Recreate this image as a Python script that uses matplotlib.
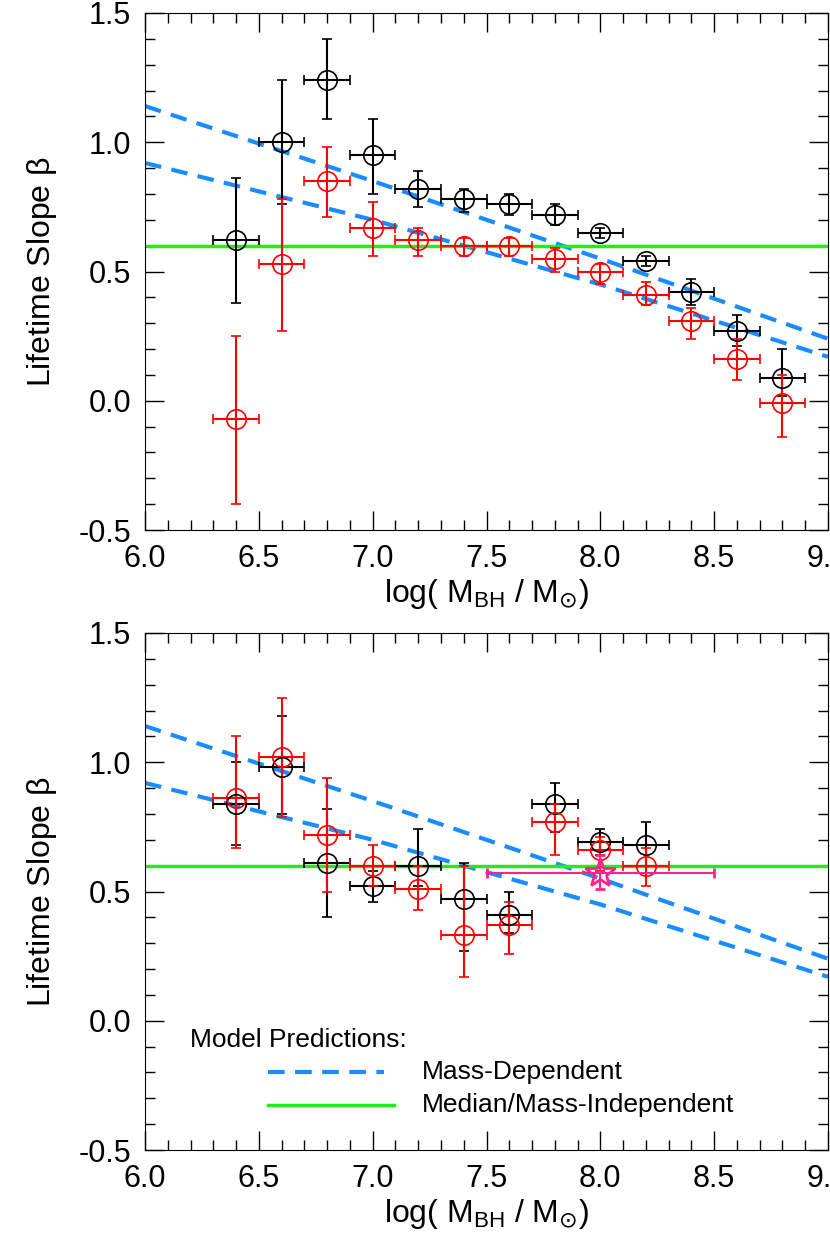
import numpy as np
import matplotlib.pyplot as plt
from matplotlib.ticker import MultipleLocator, FormatStrFormatter

plt.rcParams['font.family'] = ['Liberation Sans', 'DejaVu Sans']

mass = [6.4, 6.6, 6.8, 7.0, 7.2, 7.4, 7.6, 7.8, 8.0, 8.2, 8.4, 8.6, 8.8]

# top panel
top_blk = [0.62, 1.00, 1.24, 0.95, 0.82, 0.78, 0.76, 0.72, 0.65, 0.54, 0.42, 0.27, 0.09]
top_blk_hi = [0.86, 1.24, 1.40, 1.09, 0.89, 0.82, 0.80, 0.76, 0.67, 0.56, 0.47, 0.33, 0.20]
top_blk_lo = [0.38, 0.76, 1.09, 0.80, 0.75, 0.73, 0.72, 0.68, 0.63, 0.52, 0.37, 0.21, 0.02]
top_red = [-0.07, 0.53, 0.85, 0.67, 0.62, 0.60, 0.60, 0.55, 0.50, 0.41, 0.31, 0.16, -0.01]
top_red_hi = [0.25, 0.78, 0.98, 0.77, 0.67, 0.63, 0.63, 0.59, 0.53, 0.46, 0.36, 0.24, 0.10]
top_red_lo = [-0.40, 0.27, 0.71, 0.56, 0.56, 0.56, 0.56, 0.50, 0.45, 0.37, 0.24, 0.08, -0.14]

# bottom panel
bot_mass = mass[:10]
bot_blk = [0.84, 0.98, 0.61, 0.52, 0.60, 0.47, 0.41, 0.84, 0.69, 0.68]
bot_blk_hi = [1.00, 1.18, 0.82, 0.58, 0.74, 0.61, 0.50, 0.92, 0.74, 0.77]
bot_blk_lo = [0.68, 0.80, 0.40, 0.46, 0.52, 0.27, 0.34, 0.73, 0.64, 0.60]
bot_red = [0.86, 1.02, 0.72, 0.60, 0.51, 0.33, 0.37, 0.77, 0.66, 0.60]
bot_red_hi = [1.10, 1.25, 0.94, 0.68, 0.60, 0.60, 0.46, 0.84, 0.71, 0.67]
bot_red_lo = [0.67, 0.79, 0.50, 0.52, 0.43, 0.17, 0.26, 0.64, 0.58, 0.52]
star_x, star_y = 8.0, 0.57
star_xlo, star_xhi = 7.5, 8.5
star_ylo, star_yhi = 0.51, 0.64

# model lines
model_x = [6.0, 7.0, 8.0, 9.0]
model_hi = [1.14, 0.85, 0.55, 0.24]
model_lo = [0.92, 0.70, 0.45, 0.17]
median_beta = 0.60

fig = plt.figure(figsize=(8.3, 12.37), dpi=100)
ax1 = fig.add_axes([0.1747, 0.5715, 0.8229, 0.418])
ax2 = fig.add_axes([0.1747, 0.0703, 0.8229, 0.418])

blue = '#1a8cff'
green = '#22ee11'


def panel(ax, x, yb, hb, lb, yr, hr, lr):
    x = np.array(x)
    for y, h, l, c in [(yb, hb, lb, 'black'), (yr, hr, lr, 'red')]:
        y = np.array(y)
        ax.errorbar(x, y, yerr=[y - np.array(l), np.array(h) - y], xerr=0.1,
                    fmt='o', mfc='none', mec=c, ecolor=c, ms=14, mew=1.2,
                    elinewidth=1.5, capsize=3.5, capthick=1.5, zorder=3)
    ax.plot(model_x, model_hi, '--', color=blue, lw=3, dashes=(4, 2.5), zorder=2)
    ax.plot(model_x, model_lo, '--', color=blue, lw=3, dashes=(4, 2.5), zorder=2)
    ax.axhline(median_beta, color=green, lw=2.5, zorder=2)
    ax.set_xlim(6.0, 9.0)
    ax.set_ylim(-0.5, 1.5)
    ax.xaxis.set_major_locator(MultipleLocator(0.5))
    ax.xaxis.set_minor_locator(MultipleLocator(0.1))
    ax.yaxis.set_major_locator(MultipleLocator(0.5))
    ax.yaxis.set_minor_locator(MultipleLocator(0.1))
    ax.xaxis.set_major_formatter(FormatStrFormatter('%.1f'))
    ax.yaxis.set_major_formatter(FormatStrFormatter('%.1f'))
    ax.tick_params(which='both', direction='in', top=True, right=True, labelsize=22, pad=10)
    ax.tick_params(which='major', length=14, width=1)
    ax.tick_params(which='minor', length=7, width=1)
    ax.set_xlabel(r'log( M$_{\mathregular{BH}}$ / M$_{\odot}$)', fontsize=23, labelpad=2)
    ax.set_ylabel(r'Lifetime Slope $\mathregular{\beta}$', fontsize=23, labelpad=14)


panel(ax1, mass, top_blk, top_blk_hi, top_blk_lo, top_red, top_red_hi, top_red_lo)
panel(ax2, bot_mass, bot_blk, bot_blk_hi, bot_blk_lo, bot_red, bot_red_hi, bot_red_lo)

pink = '#ff2288'
ax2.errorbar([star_x], [star_y], xerr=[[star_x - star_xlo], [star_xhi - star_x]],
             yerr=[[star_y - star_ylo], [star_yhi - star_y]], fmt='*', mfc='none',
             mec=pink, ecolor=pink, ms=22, mew=2, elinewidth=1.5, capsize=3.5, zorder=4)

# legend drawn by hand
ax2.text(0.066, 0.213, 'Model Predictions:', transform=ax2.transAxes, fontsize=19, va='center')
ax2.plot([0.18, 0.35], [0.151, 0.151], '--', color=blue, lw=3, dashes=(4, 2.5), transform=ax2.transAxes)
ax2.plot([0.18, 0.365], [0.087, 0.087], color=green, lw=2.5, transform=ax2.transAxes)
ax2.text(0.405, 0.151, 'Mass-Dependent', transform=ax2.transAxes, fontsize=19, va='center')
ax2.text(0.405, 0.087, 'Median/Mass-Independent', transform=ax2.transAxes, fontsize=19, va='center')

fig.savefig('out.png', dpi=100)
